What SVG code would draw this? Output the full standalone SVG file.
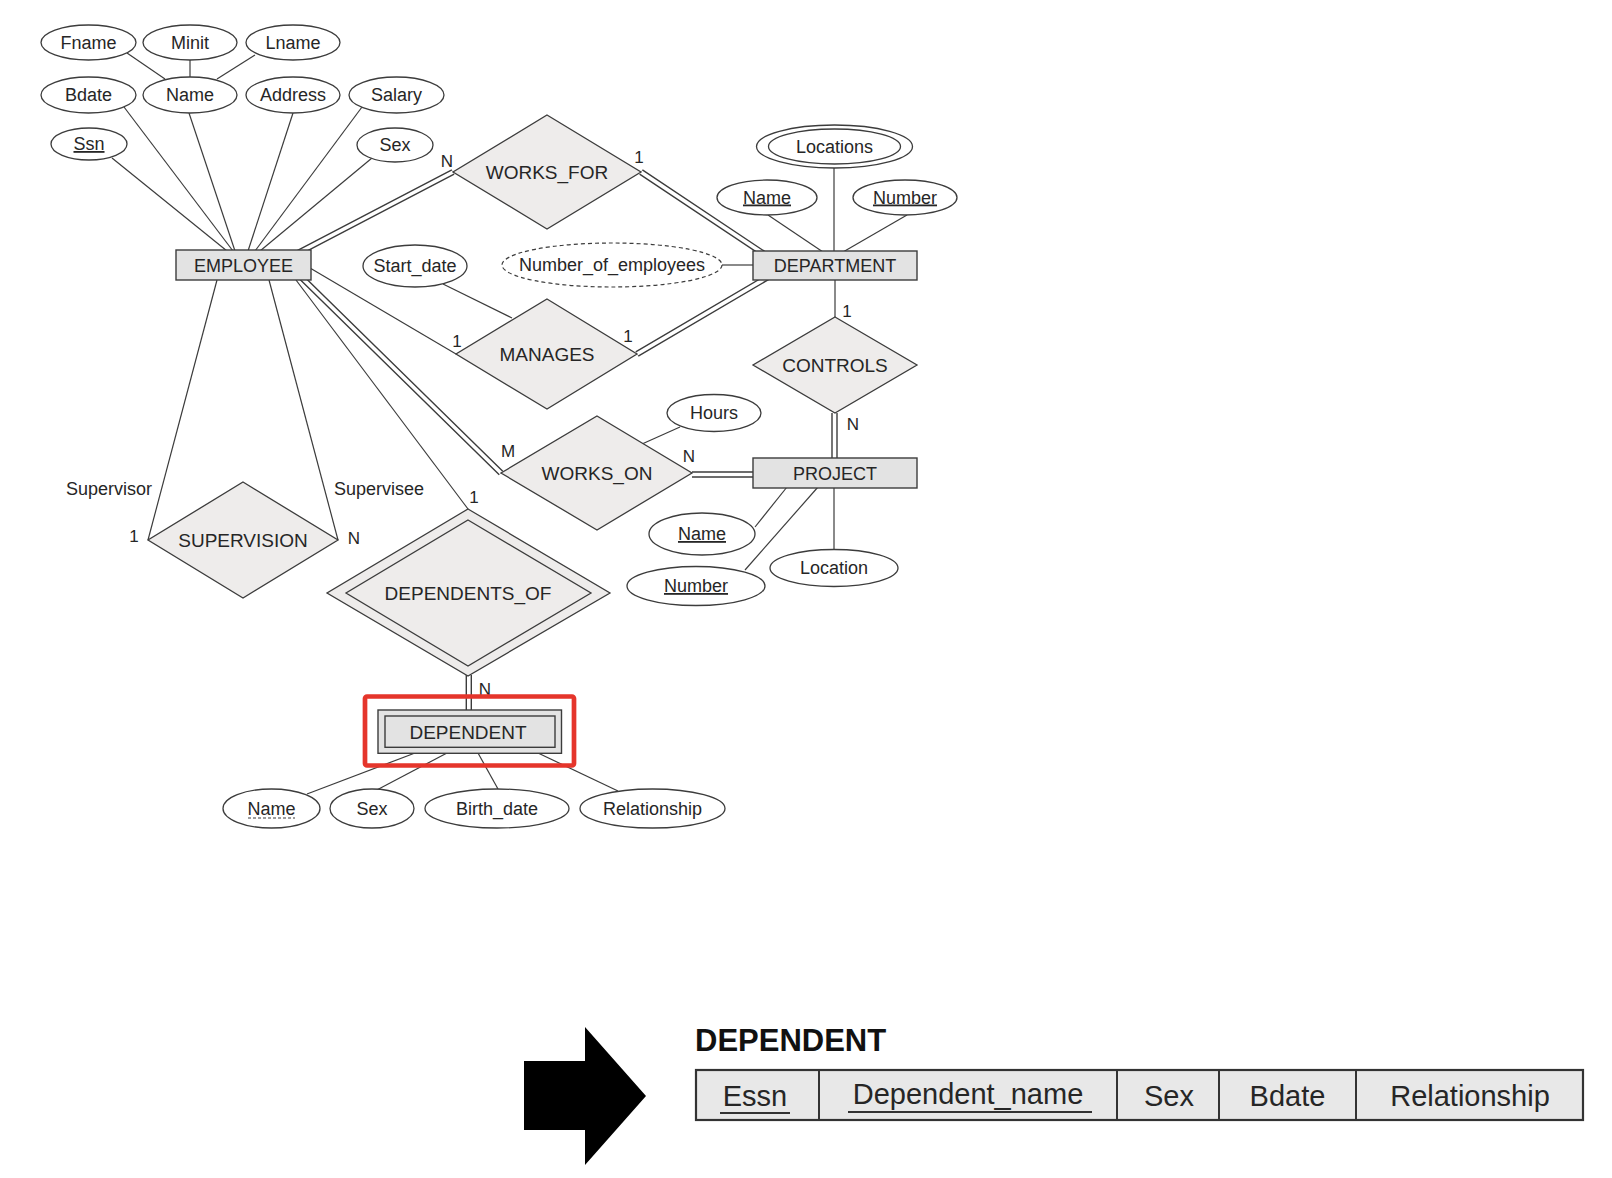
<svg xmlns="http://www.w3.org/2000/svg" width="1612" height="1178" viewBox="0 0 1612 1178">
<style>
text{font-family:"Liberation Sans",Arial,sans-serif;fill:#262626;text-anchor:middle}
.a{font-size:18px}
.r{font-size:19px}
.c{font-size:17px}
.u{text-decoration:underline}
.el{fill:#fff;stroke:#3c3c3c;stroke-width:1.3}
.ent{fill:#e3e3e3;stroke:#3c3c3c;stroke-width:1.4}
.rel{fill:#eeeceb;stroke:#3c3c3c;stroke-width:1.3}
.ln{stroke:#3c3c3c;stroke-width:1.2;fill:none}
.dbo{stroke:#3c3c3c;stroke-width:6.4;fill:none}
.dbi{stroke:#fff;stroke-width:3.6;fill:none}
.tb{font-size:29px}
</style>
<rect width="1612" height="1178" fill="#fff"/>
<g id="connectors">
<line class="ln" x1="127" y1="53" x2="165" y2="79"/>
<line class="ln" x1="190" y1="60" x2="190" y2="77"/>
<line class="ln" x1="255" y1="55" x2="217" y2="79"/>
<line class="ln" x1="112" y1="158" x2="227" y2="251"/>
<line class="ln" x1="124" y1="107" x2="233" y2="251"/>
<line class="ln" x1="189" y1="113" x2="235" y2="251"/>
<line class="ln" x1="293" y1="113" x2="248" y2="251"/>
<line class="ln" x1="362" y1="107" x2="255" y2="251"/>
<line class="ln" x1="372" y1="158" x2="260" y2="251"/>
<line class="ln" x1="834" y1="168" x2="834" y2="252"/>
<line class="ln" x1="768" y1="215" x2="823" y2="252"/>
<line class="ln" x1="907" y1="215" x2="843" y2="252"/>
<line class="ln" x1="722" y1="265" x2="754" y2="265"/>
<line class="ln" x1="835" y1="280" x2="835" y2="317"/>
<line class="ln" x1="310" y1="268" x2="456" y2="354"/>
<line class="ln" x1="443" y1="284" x2="512" y2="318"/>
<line class="ln" x1="680" y1="427" x2="642" y2="444"/>
<line class="ln" x1="755" y1="527" x2="787" y2="487"/>
<line class="ln" x1="745" y1="570" x2="818" y2="487"/>
<line class="ln" x1="834" y1="487" x2="834" y2="550"/>
<line class="ln" x1="296" y1="280" x2="468" y2="509"/>
<line class="ln" x1="217" y1="280" x2="148" y2="540"/>
<line class="ln" x1="269" y1="280" x2="338" y2="540"/>
<line class="ln" x1="307" y1="794" x2="415" y2="753"/>
<line class="ln" x1="373" y1="792" x2="447" y2="753"/>
<line class="ln" x1="498" y1="789" x2="478" y2="753"/>
<line class="ln" x1="618" y1="791" x2="538" y2="753"/>
<g id="double-lines">
<path class="dbo" d="M294,255 L453,172 M641,172 L770,258 M637,354 L768,277 M298,274 L501,473 M692,474.5 L760,474.5 M834.5,413 L834.5,466 M468.8,675 L468.8,716"/>
<path class="dbi" d="M294,255 L453,172 M641,172 L770,258 M637,354 L768,277 M298,274 L501,473 M692,474.5 L760,474.5 M834.5,413 L834.5,466 M468.8,675 L468.8,716"/>
</g>
</g>
<g id="n-fname"><ellipse class="el" cx="88.5" cy="42.5" rx="47.5" ry="17.5"/><text class="a" x="88.5" y="48.5">Fname</text></g>
<g id="n-minit"><ellipse class="el" cx="190" cy="42.5" rx="47" ry="17.5"/><text class="a" x="190" y="48.5">Minit</text></g>
<g id="n-lname"><ellipse class="el" cx="293" cy="42.5" rx="47" ry="17.5"/><text class="a" x="293" y="48.5">Lname</text></g>
<g id="n-bdate"><ellipse class="el" cx="88.5" cy="95" rx="47.5" ry="18"/><text class="a" x="88.5" y="101">Bdate</text></g>
<g id="n-name"><ellipse class="el" cx="190" cy="95" rx="47" ry="18"/><text class="a" x="190" y="101">Name</text></g>
<g id="n-address"><ellipse class="el" cx="293" cy="95" rx="47" ry="18"/><text class="a" x="293" y="101">Address</text></g>
<g id="n-salary"><ellipse class="el" cx="396.5" cy="95" rx="47.5" ry="18"/><text class="a" x="396.5" y="101">Salary</text></g>
<g id="n-ssn"><ellipse class="el" cx="89" cy="144" rx="38" ry="16"/><text class="a u" x="89" y="150">Ssn</text></g>
<g id="n-sex"><ellipse class="el" cx="395" cy="145" rx="38" ry="17"/><text class="a" x="395" y="151">Sex</text></g>
<g id="n-employee"><rect class="ent" x="176" y="250" width="135" height="30"/><text class="a" x="243.5" y="271.5">EMPLOYEE</text></g>
<g id="n-works_for"><polygon class="rel" points="547,115 641,172 547,229 453,172"/><text class="r" x="547" y="179">WORKS_FOR</text></g>
<g id="n-locations"><ellipse class="el" cx="834.5" cy="146.5" rx="78" ry="21.5"/><ellipse class="el" cx="834.5" cy="146.5" rx="66" ry="17.5"/><text class="a" x="834.5" y="152.5">Locations</text></g>
<g id="n-dname"><ellipse class="el" cx="767" cy="197.5" rx="50" ry="17.5"/><text class="a u" x="767" y="203.5">Name</text></g>
<g id="n-dnumber"><ellipse class="el" cx="905" cy="197.5" rx="52" ry="17.5"/><text class="a u" x="905" y="203.5">Number</text></g>
<g id="n-department"><rect class="ent" x="753" y="251" width="164" height="29"/><text class="a" x="835" y="272">DEPARTMENT</text></g>
<g id="n-start_date"><ellipse class="el" cx="415" cy="266" rx="52" ry="21"/><text class="a" x="415" y="272">Start_date</text></g>
<g id="n-num_emp"><ellipse cx="612" cy="265" rx="110" ry="22" fill="#fff" stroke="#3c3c3c" stroke-width="1.2" stroke-dasharray="4,3"/><text class="a" x="612" y="271">Number_of_employees</text></g>
<g id="n-manages"><polygon class="rel" points="547,299 637,354 547,409 456,354"/><text class="r" x="547" y="361">MANAGES</text></g>
<g id="n-controls"><polygon class="rel" points="835,317 917,365 835,413 753,365"/><text class="r" x="835" y="372">CONTROLS</text></g>
<g id="n-hours"><ellipse class="el" cx="714" cy="413" rx="47" ry="18.5"/><text class="a" x="714" y="419">Hours</text></g>
<g id="n-works_on"><polygon class="rel" points="597,416 692,473 597,530 501,473"/><text class="r" x="597" y="480">WORKS_ON</text></g>
<g id="n-project"><rect class="ent" x="753" y="458" width="164" height="30"/><text class="a" x="835" y="479.5">PROJECT</text></g>
<g id="n-pname"><ellipse class="el" cx="702" cy="534" rx="53" ry="21"/><text class="a u" x="702" y="540">Name</text></g>
<g id="n-pnumber"><ellipse class="el" cx="696" cy="586" rx="69" ry="19.5"/><text class="a u" x="696" y="592">Number</text></g>
<g id="n-location"><ellipse class="el" cx="834" cy="568" rx="64" ry="18.5"/><text class="a" x="834" y="574">Location</text></g>
<g id="n-supervision"><polygon class="rel" points="243,482 338,540 243,598 148,540"/><text class="r" x="243" y="547">SUPERVISION</text></g>
<g id="n-dependents_of"><polygon class="rel" points="468,509 610,593 468,676 327,593"/><polygon class="rel" points="468,520 591,593 468,666 346,593"/><text class="r" x="468" y="600">DEPENDENTS_OF</text></g>
<g id="n-dependent"><rect class="ent" x="378" y="710" width="183.5" height="43.3"/><rect class="ent" x="385" y="716" width="170" height="31.3"/><text class="r" x="468" y="738.5">DEPENDENT</text></g>
<g id="n-depname"><ellipse class="el" cx="271.5" cy="808.5" rx="48.5" ry="19.5"/><text class="a" x="271.5" y="815">Name</text><line x1="248" y1="818" x2="295" y2="818" stroke="#3c3c3c" stroke-width="1.2" stroke-dasharray="3,2"/></g>
<g id="n-depsex"><ellipse class="el" cx="372" cy="808.5" rx="42" ry="19.5"/><text class="a" x="372" y="815">Sex</text></g>
<g id="n-birth_date"><ellipse class="el" cx="497" cy="808.5" rx="72" ry="19.5"/><text class="a" x="497" y="815">Birth_date</text></g>
<g id="n-relationship"><ellipse class="el" cx="652.5" cy="808.5" rx="72.5" ry="19.5"/><text class="a" x="652.5" y="815">Relationship</text></g>
<g id="labels">
<text class="c" x="447" y="167">N</text>
<text class="c" x="639" y="163">1</text>
<text class="c" x="457" y="347">1</text>
<text class="c" x="628" y="342">1</text>
<text class="c" x="847" y="317">1</text>
<text class="c" x="853" y="430">N</text>
<text class="c" x="508" y="457">M</text>
<text class="c" x="689" y="462">N</text>
<text class="c" x="474" y="503">1</text>
<text class="c" x="485" y="695">N</text>
<text class="a" x="109" y="495">Supervisor</text>
<text class="a" x="379" y="495">Supervisee</text>
<text class="c" x="134" y="542">1</text>
<text class="c" x="354" y="544">N</text>
</g>
<rect id="highlight" x="365" y="696.5" width="209" height="69" rx="2" fill="none" stroke="#e5352b" stroke-width="4.7"/>
<polygon id="arrow" points="524,1061 585,1061 585,1027 646,1096 585,1165 585,1130 524,1130" fill="#000"/>
<g id="table-dependent">
<text x="695" y="1051" style="font-size:31px;font-weight:bold;text-anchor:start;fill:#111">DEPENDENT</text>
<rect x="696" y="1070" width="887" height="50" fill="#e8e8e8" stroke="#333" stroke-width="2.2"/>
<line x1="819" y1="1070" x2="819" y2="1120" stroke="#333" stroke-width="2"/>
<line x1="1117" y1="1070" x2="1117" y2="1120" stroke="#333" stroke-width="2"/>
<line x1="1219" y1="1070" x2="1219" y2="1120" stroke="#333" stroke-width="2"/>
<line x1="1356" y1="1070" x2="1356" y2="1120" stroke="#333" stroke-width="2"/>
<text class="tb" x="755" y="1106">Essn</text>
<line x1="720" y1="1113" x2="790" y2="1113" stroke="#333" stroke-width="2"/>
<text class="tb" x="968" y="1104">Dependent_name</text>
<line x1="848" y1="1112" x2="1092" y2="1112" stroke="#333" stroke-width="2"/>
<text class="tb" x="1169" y="1106">Sex</text>
<text class="tb" x="1287.5" y="1106">Bdate</text>
<text class="tb" x="1470" y="1106">Relationship</text>
</g>
</svg>
